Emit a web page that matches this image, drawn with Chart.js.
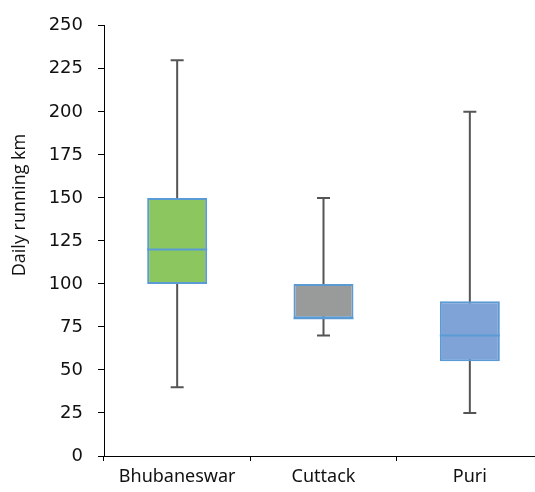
<!DOCTYPE html>
<html>
<head>
<meta charset="utf-8">
<script src="https://cdn.jsdelivr.net/npm/chart.js@4.4.1/dist/chart.umd.min.js"></script>
<style>
  html, body { margin: 0; padding: 0; background: #fff; overflow: hidden; }
  #wrap { width: 543px; height: 492px; position: relative; }
</style>
</head>
<body>
<div id="wrap"><canvas id="boxChart"></canvas></div>
<script>
// datos del boxplot
const cities = ['Bhubaneswar', 'Cuttack', 'Puri'];
const minKm = [40, 70, 25];
const q1Km = [100, 80, 55];
const medianKm = [120, 80, 70];
const q3Km = [150, 100, 90];
const maxKm = [230, 150, 200];
const yTicks = [0, 25, 50, 75, 100, 125, 150, 175, 200, 225, 250];

const boxColors = ['#8bc65f', '#999b9b', '#7fa3d6'];
const edgeColor = '#5b9bd5';
const whiskerColor = '#555555';

// bigotes, tapas y mediana con las escalas del grafico
const whiskerPlugin = {
  id: 'whiskers',
  beforeDatasetsDraw(chart) {
    const { ctx, scales: { x, y } } = chart;
    ctx.save();
    ctx.strokeStyle = whiskerColor;
    ctx.lineWidth = 2;
    cities.forEach((c, i) => {
      const cx = x.getPixelForValue(i);
      const top = y.getPixelForValue(maxKm[i]);
      const bot = y.getPixelForValue(minKm[i]);
      ctx.beginPath();
      ctx.moveTo(cx, top);
      ctx.lineTo(cx, bot);
      ctx.moveTo(cx - 6.5, top);
      ctx.lineTo(cx + 6.5, top);
      ctx.moveTo(cx - 6.5, bot);
      ctx.lineTo(cx + 6.5, bot);
      ctx.stroke();
    });
    ctx.restore();
  },
  afterDatasetsDraw(chart) {
    const { ctx, scales: { y } } = chart;
    const meta = chart.getDatasetMeta(0);
    ctx.save();
    ctx.strokeStyle = edgeColor;
    ctx.lineWidth = 2;
    meta.data.forEach((bar, i) => {
      const my = y.getPixelForValue(medianKm[i]);
      ctx.beginPath();
      ctx.moveTo(bar.x - bar.width / 2, my);
      ctx.lineTo(bar.x + bar.width / 2, my);
      ctx.stroke();
    });
    // titulo del eje y
    ctx.fillStyle = '#111';
    ctx.font = '18px "Open Sans"';
    ctx.textAlign = 'center';
    ctx.textBaseline = 'middle';
    ctx.translate(20, 205);
    ctx.rotate(-Math.PI / 2);
    ctx.fillText('Daily running km', 0, 0);
    ctx.restore();
  }
};

new Chart(document.getElementById('boxChart'), {
  type: 'bar',
  data: {
    labels: cities,
    datasets: [{
      data: cities.map((c, i) => [q1Km[i], q3Km[i]]),
      backgroundColor: boxColors,
      borderColor: edgeColor,
      borderWidth: 2,
      borderSkipped: false,
      barPercentage: 0.41,
      categoryPercentage: 1
    }]
  },
  options: {
    responsive: true,
    maintainAspectRatio: false,
    animation: false,
    layout: { padding: { top: 18, right: 0, left: 0, bottom: 0 } },
    plugins: { legend: { display: false }, tooltip: { enabled: false } },
    scales: {
      x: {
        grid: { display: true, drawOnChartArea: false, drawTicks: true, tickLength: 5, color: '#000', offset: true },
        border: { color: '#000', width: 1 },
        ticks: { color: '#111', font: { family: 'Noto Sans', size: 18 }, padding: 5 },
        afterFit(scale) { scale.height = 36; }
      },
      y: {
        min: 0,
        max: 250,
        afterBuildTicks(scale) { scale.ticks = yTicks.map(v => ({ value: v })); },
        grid: { display: true, drawOnChartArea: false, drawTicks: true, tickLength: 6, color: '#000' },
        border: { color: '#000', width: 1 },
        ticks: { color: '#111', font: { family: 'DejaVu Sans', size: 18 }, padding: 15 },
        afterFit(scale) { scale.width = 104; }
      }
    }
  },
  plugins: [whiskerPlugin]
});
</script>
</body>
</html>
